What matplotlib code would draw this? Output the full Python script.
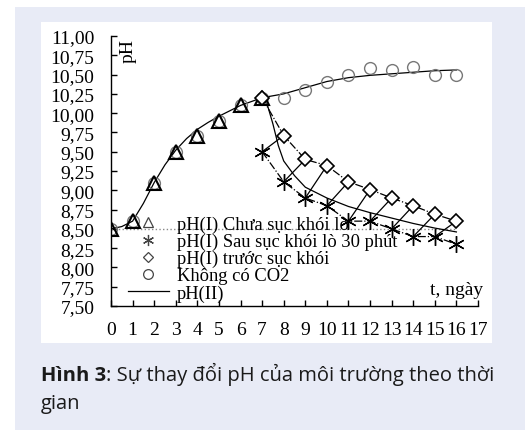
import matplotlib
matplotlib.use("Agg")
import matplotlib.pyplot as plt
from matplotlib.lines import Line2D
from matplotlib.patches import Rectangle
from matplotlib.ticker import FuncFormatter, MultipleLocator

# ---- data ----
days_before = [0, 1, 2, 3, 4, 5, 6, 7]
ph_before = [8.50, 8.60, 9.10, 9.50, 9.70, 9.90, 10.10, 10.20]

days_after = [7, 8, 9, 10, 11, 12, 13, 14, 15, 16]
ph_smoke_30 = [9.50, 9.11, 8.90, 8.80, 8.60, 8.60, 8.50, 8.40, 8.40, 8.30]
ph_pre_smoke = [10.20, 9.71, 9.40, 9.32, 9.11, 9.01, 8.90, 8.80, 8.69, 8.60]
ph_no_co2 = [10.20, 10.20, 10.30, 10.40, 10.49, 10.58, 10.56, 10.60, 10.50, 10.50]

# pH(II) curves
days_rise = [0, 0.5, 1, 1.5, 2, 2.5, 3, 3.5, 4, 4.5, 5, 5.5, 6, 6.5, 7]
ph_rise = [8.50, 8.53, 8.60, 8.83, 9.10, 9.33, 9.52, 9.67, 9.79, 9.88, 9.96, 10.03, 10.10, 10.15, 10.20]
days_up = [7, 8, 9, 10, 11, 12, 13, 14, 15, 16]
ph_up = [10.20, 10.25, 10.33, 10.41, 10.46, 10.49, 10.51, 10.53, 10.55, 10.56]
days_down = [7, 7.25, 7.5, 7.75, 8, 8.5, 9, 10, 11, 12, 13, 14, 15, 16]
ph_down = [10.20, 10.10, 9.86, 9.58, 9.38, 9.19, 9.04, 8.90, 8.79, 8.71, 8.64, 8.57, 8.51, 8.46]

baseline_days = [0, 16]
baseline_ph = [8.50, 8.50]

labels = ["pH(I) Chưa sục khói lò", "pH(I) Sau sục khói lò 30 phút",
          "pH(I) trước sục khói", "Không có CO2", "pH(II)"]

W, H = 525, 431
plt.rcParams['font.family'] = ['Liberation Serif', 'DejaVu Serif']
fig = plt.figure(figsize=(W / 100, H / 100), dpi=100)
fig.patch.set_facecolor('white')

# caption panel + white chart box
fig.patches.append(Rectangle((15 / W, 0), 1 - 15 / W, 1 - 8 / H, transform=fig.transFigure,
                             facecolor='#e8ebf6', edgecolor='none', zorder=-2))
fig.patches.append(Rectangle((41 / W, 1 - 344 / H), (492 - 41) / W, (344 - 23) / H,
                             transform=fig.transFigure, facecolor='white', edgecolor='none', zorder=-1))

ax = fig.add_axes([111 / W, 1 - 307 / H, (478 - 111) / W, (307 - 37) / H])
ax.set_facecolor('none')
ax.set_zorder(2)

lw = 0.9
# dotted reference line
ax.plot(baseline_days, baseline_ph, linestyle=':', color='#888888', lw=1.0)

# pH(II) solid curves
ax.plot(days_rise, ph_rise, color='black', lw=lw)
ax.plot(days_up, ph_up, color='black', lw=lw)
ax.plot(days_down, ph_down, color='black', lw=lw)

# dash-dot lines through the daily series
ax.plot(days_after, ph_pre_smoke, color='black', lw=lw, linestyle='-.')
ax.plot(days_after, ph_smoke_30, color='black', lw=lw, linestyle='-.')

# saw-tooth: after smoking -> next day before smoking
for i in range(len(days_after) - 1):
    ax.plot([days_after[i], days_after[i + 1]], [ph_smoke_30[i], ph_pre_smoke[i + 1]],
            color='black', lw=lw)

# markers
ax.plot(days_before + days_after[1:], ph_before + ph_no_co2[1:], linestyle='none', marker='o',
        ms=8.5, mfc='none', mec='#777777', mew=1.0)
ax.plot(days_before, ph_before, linestyle='none', marker='^', ms=10, mfc='none', mec='black', mew=1.5)
ax.plot(days_after, ph_smoke_30, linestyle='none', marker=(6, 2, 0), ms=12, color='black', mew=1.0)
ax.plot(days_after, ph_pre_smoke, linestyle='none', marker='D', ms=7.5, mfc='white', mec='black', mew=1.2)

ax.set_xlim(0, 17)
ax.set_ylim(7.5, 11.0)
ax.xaxis.set_major_locator(MultipleLocator(1))
ax.yaxis.set_major_locator(MultipleLocator(0.25))
ax.yaxis.set_major_formatter(FuncFormatter(lambda v, p: f"{v:.2f}".replace('.', ',')))
for s in ['top', 'right']:
    ax.spines[s].set_visible(False)
for s in ['left', 'bottom']:
    ax.spines[s].set_linewidth(1.0)
ax.tick_params(axis='both', direction='in', length=4, width=1.0, labelsize=14)
ax.tick_params(axis='x', pad=11)
ax.tick_params(axis='y', pad=12)

ax.text(0.79, 10.82, "pH", rotation=90, ha='center', va='center', fontsize=14)
ax.text(17.23, 7.66, "t, ngày", ha='right', va='baseline', fontsize=14)

handles = [
    Line2D([], [], linestyle='none', marker='^', ms=7, mfc='none', mec='#444444', mew=0.9),
    Line2D([], [], linestyle='none', marker=(6, 2, 0), ms=8, color='#444444', mew=0.9),
    Line2D([], [], linestyle='none', marker='D', ms=5.5, mfc='none', mec='#444444', mew=0.9),
    Line2D([], [], linestyle='none', marker='o', ms=7, mfc='none', mec='#444444', mew=0.9),
    Line2D([], [], color='black', lw=lw),
]
ax.legend(handles, labels, loc='upper left', bbox_to_anchor=(0.046, 0.335), frameon=False,
          fontsize=13.3, borderpad=0, borderaxespad=0, labelspacing=0.0,
          handlelength=2.2, handletextpad=0.45)

# caption
cap_fs = 14.5
fig.canvas.draw()
r = fig.canvas.get_renderer()
t1 = fig.text(41 / W, 1 - 381 / H, "Hình 3", fontsize=cap_fs, fontweight='bold',
              family=['Open Sans', 'DejaVu Sans'], color='#1a1a1a', va='baseline')
bb = t1.get_window_extent(renderer=r)
x2 = bb.x1 / fig.bbox.width
fig.text(x2, 1 - 381 / H, ": Sự thay đổi pH của môi trường theo thời", fontsize=cap_fs,
         family=['Open Sans', 'DejaVu Sans'], color='#1a1a1a', va='baseline')
fig.text(41 / W, 1 - 409 / H, "gian", fontsize=cap_fs,
         family=['Open Sans', 'DejaVu Sans'], color='#1a1a1a', va='baseline')

fig.savefig("out.png", dpi=100)
